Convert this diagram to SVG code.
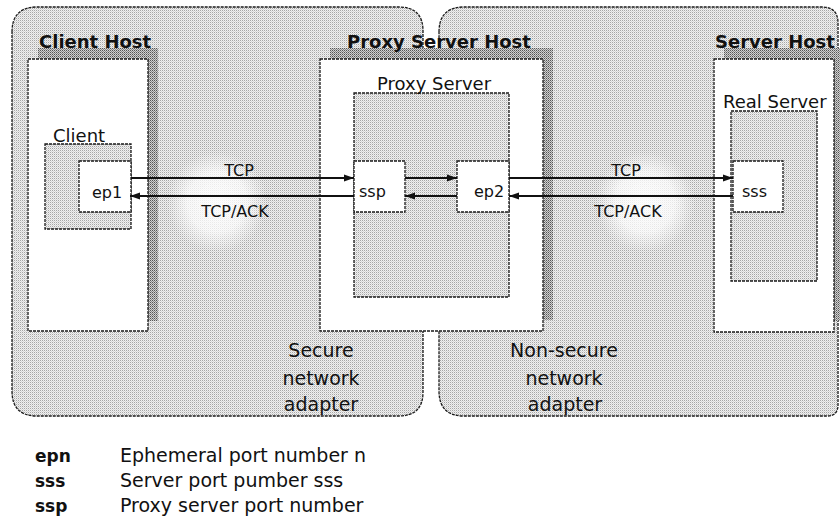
<svg xmlns="http://www.w3.org/2000/svg" width="840" height="524" viewBox="0 0 840 524">
<style>
.bd{stroke:#1a1a1a;stroke-width:1.3;stroke-dasharray:3 1}
.lt{fill:url(#lt)}
.dk{fill:url(#dk)}
.wh{fill:#fff}
.t{font-family:"DejaVu Sans","Liberation Sans",sans-serif;fill:#111}
.tb{font-family:"DejaVu Sans","Liberation Sans",sans-serif;font-weight:bold;fill:#111}
.ln{stroke:#111;stroke-width:2;fill:none;marker-end:url(#ah)}
</style>
<defs>
<pattern id="lt" width="2" height="2" patternUnits="userSpaceOnUse"><rect width="2" height="2" fill="#f0f0f0"/><rect width="1" height="1" fill="#a6a6a6"/><rect x="1" y="1" width="1" height="1" fill="#d6d6d6"/></pattern>
<pattern id="dk" width="2" height="2" patternUnits="userSpaceOnUse"><rect width="2" height="2" fill="#d0d0d0"/><rect width="1" height="1" fill="#555"/><rect x="1" y="1" width="1" height="1" fill="#8a8a8a"/></pattern>
<radialGradient id="glow"><stop offset="0" stop-color="#fff" stop-opacity="0.9"/><stop offset="0.6" stop-color="#fff" stop-opacity="0.7"/><stop offset="1" stop-color="#fff" stop-opacity="0"/></radialGradient>
<marker id="ah" markerUnits="userSpaceOnUse" markerWidth="11" markerHeight="8" refX="10" refY="4" orient="auto"><path d="M0,0.5 L10,4 L0,7.5 Z" fill="#111"/></marker>
</defs>
<rect width="840" height="524" fill="#fff"/>
<g id="secure-region">
<path class="lt bd" d="M12,32 Q12,7 37,7 L399,7 Q423,7 423,31 L423,392 Q423,416 399,416 L37,416 Q12,416 12,391 Z"/>
<circle cx="217" cy="202" r="50" fill="url(#glow)"/>
</g>
<g id="nonsecure-region">
<path class="lt bd" d="M439,32 Q439,7 464,7 L822,7 Q838,7 838,23 L838,405 Q838,416 827,416 L464,416 Q439,416 439,391 Z"/>
<circle cx="645" cy="202" r="50" fill="url(#glow)"/>
</g>
<g id="client-host">
<rect class="dk" x="38" y="48" width="120" height="273"/>
<rect class="wh bd" x="28" y="59" width="120" height="272"/>
<text class="tb" x="39" y="48" font-size="18">Client Host</text>
</g>
<g id="client">
<rect class="lt bd" x="45" y="144" width="86" height="85"/>
<text class="t" x="53" y="142" font-size="18">Client</text>
</g>
<g id="ep1">
<rect class="wh bd" x="79" y="161" width="52" height="51"/>
<text class="t" x="92" y="198" font-size="16">ep1</text>
</g>
<g id="proxy-host">
<rect class="dk" x="330" y="48" width="223" height="272"/>
<rect class="wh bd" x="320" y="59" width="223" height="272"/>
<text class="tb" x="347" y="48" font-size="18">Proxy Server Host</text>
</g>
<g id="proxy-server">
<rect class="lt bd" x="354" y="93" width="155" height="204"/>
<text class="t" x="377" y="90" font-size="18">Proxy Server</text>
</g>
<g id="ssp">
<rect class="wh bd" x="354" y="161" width="51" height="51"/>
<text class="t" x="359" y="197" font-size="16">ssp</text>
</g>
<g id="ep2">
<rect class="wh bd" x="457" y="161" width="52" height="51"/>
<text class="t" x="474" y="197" font-size="16">ep2</text>
</g>
<g id="server-host">
<rect class="dk" x="724" y="48" width="120" height="273"/>
<rect class="wh bd" x="714" y="59" width="120" height="273"/>
<text class="tb" x="715" y="48" font-size="18">Server Host</text>
</g>
<g id="real-server">
<rect class="lt bd" x="731" y="111" width="86" height="170"/>
<text class="t" x="723" y="108" font-size="18">Real Server</text>
</g>
<g id="sss">
<rect class="wh bd" x="733" y="161" width="50" height="51"/>
<text class="t" x="742" y="197" font-size="16">sss</text>
</g>
<g id="connectors">
<line class="ln" x1="131" y1="178" x2="354" y2="178"/>
<line class="ln" x1="354" y1="196" x2="130" y2="196"/>
<line class="ln" x1="405" y1="178" x2="457" y2="178"/>
<line class="ln" x1="457" y1="196" x2="405" y2="196"/>
<line class="ln" x1="509" y1="178" x2="733" y2="178"/>
<line class="ln" x1="733" y1="196" x2="509" y2="196"/>
<text class="t" x="239" y="176" font-size="16" text-anchor="middle">TCP</text>
<text class="t" x="235" y="217" font-size="16" text-anchor="middle">TCP/ACK</text>
<text class="t" x="626" y="176" font-size="16" text-anchor="middle">TCP</text>
<text class="t" x="628" y="217" font-size="16" text-anchor="middle">TCP/ACK</text>
</g>
<g id="adapter-labels">
<text class="t" x="321" y="357" font-size="19" text-anchor="middle">Secure</text>
<text class="t" x="321" y="385" font-size="19" text-anchor="middle">network</text>
<text class="t" x="321" y="411" font-size="19" text-anchor="middle">adapter</text>
<text class="t" x="564" y="357" font-size="19" text-anchor="middle">Non-secure</text>
<text class="t" x="564" y="385" font-size="19" text-anchor="middle">network</text>
<text class="t" x="565" y="411" font-size="19" text-anchor="middle">adapter</text>
</g>
<g id="legend">
<text class="tb" x="35" y="462" font-size="17">epn</text>
<text class="t" x="120" y="462" font-size="19">Ephemeral port number n</text>
<text class="tb" x="35" y="487" font-size="17">sss</text>
<text class="t" x="120" y="487" font-size="19">Server port pumber sss</text>
<text class="tb" x="35" y="512" font-size="17">ssp</text>
<text class="t" x="120" y="512" font-size="19">Proxy server port number</text>
</g>
</svg>
